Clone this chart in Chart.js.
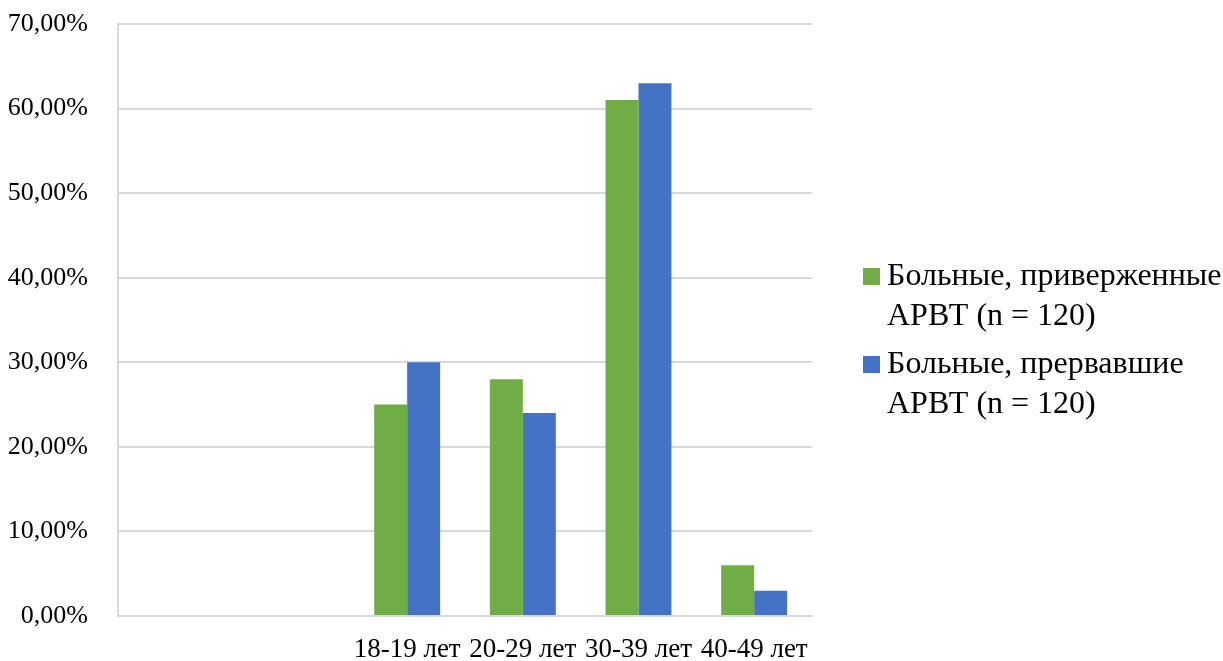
<!DOCTYPE html>
<html>
<head>
<meta charset="utf-8">
<script src="https://cdn.jsdelivr.net/npm/chart.js@4/dist/chart.umd.min.js"></script>
<style>
  html, body { margin: 0; padding: 0; background: #ffffff; }
  #wrap { width: 1223px; height: 661px; position: relative; }
</style>
</head>
<body>
<div id="wrap"><canvas id="c" width="1223" height="661"></canvas></div>
<script>
// Age groups (two leading empty slots on the category axis)
const categories = ['', '', '18-19 лет', '20-29 лет', '30-39 лет', '40-49 лет'];
// Share of patients, %
const adherent = [null, null, 25, 28, 61, 6];
const interrupted = [null, null, 30, 24, 63, 3];
const seriesLines = [
  ['Больные, приверженные', 'АРВТ (n = 120)'],
  ['Больные, прервавшие', 'АРВТ (n = 120)']
];
const yTicks = [0, 10, 20, 30, 40, 50, 60, 70];

const FONT = '"Liberation Serif", "Times New Roman", serif';
const GRID = '#d9d9d9';

// Right-hand legend with wrapped two-line labels
const sideLegend = {
  id: 'sideLegend',
  afterDraw(chart) {
    const ctx = chart.ctx;
    const x0 = 863, box = 17, textX = 887;
    const starts = [277, 365];
    const lineH = 40;
    ctx.save();
    ctx.font = '32px ' + FONT;
    ctx.textBaseline = 'middle';
    ctx.textAlign = 'left';
    chart.data.datasets.forEach((ds, i) => {
      const y = starts[i];
      ctx.fillStyle = ds.backgroundColor;
      ctx.fillRect(x0, y - 9, box, box);
      ctx.fillStyle = '#000000';
      seriesLines[i].forEach((t, j) => ctx.fillText(t, textX, y + j * lineH));
    });
    ctx.restore();
  }
};

new Chart(document.getElementById('c'), {
  type: 'bar',
  data: {
    labels: categories,
    datasets: [
      { label: seriesLines[0].join(' '), data: adherent, backgroundColor: '#70ad47' },
      { label: seriesLines[1].join(' '), data: interrupted, backgroundColor: '#4472c4' }
    ]
  },
  options: {
    responsive: false,
    animation: false,
    devicePixelRatio: 1,
    layout: { padding: { left: 0, right: 411, top: 24, bottom: 0 } },
    datasets: { bar: { barPercentage: 1, categoryPercentage: 0.57 } },
    plugins: { legend: { display: false }, tooltip: { enabled: false } },
    scales: {
      x: {
        grid: { display: false, drawTicks: false },
        border: { display: true, color: GRID, width: 2 },
        ticks: { color: '#000', font: { family: FONT, size: 27 }, padding: 18, maxRotation: 0, autoSkip: false },
        afterFit(s) { s.height = 45; s.paddingLeft = 0; s.paddingRight = 0; }
      },
      y: {
        min: 0, max: 70,
        afterBuildTicks(s) { s.ticks = yTicks.map(v => ({ value: v })); },
        grid: { color: GRID, lineWidth: 2, drawTicks: false },
        border: { display: true, color: GRID, width: 2 },
        ticks: {
          color: '#000', font: { family: FONT, size: 26 }, padding: 30,
          callback: v => v.toFixed(2).replace('.', ',') + '%'
        },
        afterFit(s) { s.width = 118; s.paddingTop = 0; s.paddingBottom = 0; }
      }
    }
  },
  plugins: [sideLegend]
});
</script>
</body>
</html>
